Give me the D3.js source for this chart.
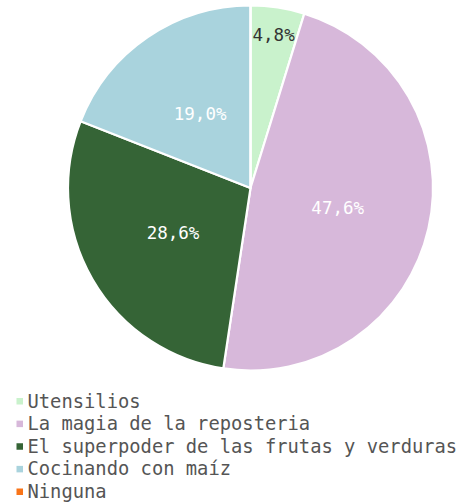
<!DOCTYPE html>
<html><head><meta charset="utf-8">
<script src="https://cdn.jsdelivr.net/npm/d3@7"></script>
<style>html,body{margin:0;padding:0;background:#fff;}</style>
</head><body>
<svg id="c" width="460" height="502"></svg>
<script>
const categories = ["Utensilios","La magia de la reposteria","El superpoder de las frutas y verduras","Cocinando con maíz","Ninguna"];
const values = [1, 10, 6, 4, 0];
const colors = ["#c9f2cc","#d7b8da","#356436","#a9d3dd","#f97418"];
const labelColors = ["#333333","#ffffff","#ffffff","#ffffff","#ffffff"];

const svg = d3.select("#c");
const font = "'DejaVu Sans Mono', monospace";
const cx = 250.5, cy = 188, R = 182.5;
const total = d3.sum(values);
const pie = d3.pie().sort(null).value(d => d)(values);
const arc = d3.arc().innerRadius(0).outerRadius(R);
const g = svg.append("g").attr("transform", `translate(${cx},${cy})`);
g.selectAll("path").data(pie).join("path")
  .attr("d", arc).attr("fill", (d,i) => colors[i])
  .attr("stroke", "#fff").attr("stroke-width", 2.2).attr("stroke-linejoin","round");
const fmt = v => (v/total*100).toFixed(1).replace(".", ",") + "%";
g.selectAll("text").data(pie.filter(d => d.value > 0)).join("text")
  .attr("transform", d => {
    const span = d.endAngle - d.startAngle;
    const r = span < 0.5 ? R*0.85 : R*0.49;
    const a = (d.startAngle + d.endAngle)/2;
    return `translate(${Math.sin(a)*r},${-Math.cos(a)*r})`;
  })
  .attr("text-anchor","middle").attr("dominant-baseline","central")
  .attr("font-family", font).attr("font-size", 17.5)
  .attr("fill", d => labelColors[d.index])
  .text(d => fmt(d.value));

const lg = svg.append("g");
const rowY = d3.scalePoint().domain(categories).range([401, 491.5]);
categories.forEach((c,i) => {
  const y = rowY(c);
  lg.append("rect").attr("x", 16.5).attr("y", y-3).attr("width", 6.5).attr("height", 6.5).attr("fill", colors[i]);
  lg.append("text").attr("x", 27.5).attr("y", y).attr("dominant-baseline","central")
    .attr("font-family", font).attr("font-size", 18.8).attr("fill", "#555")
    .text(c);
});
</script>
</body></html>
